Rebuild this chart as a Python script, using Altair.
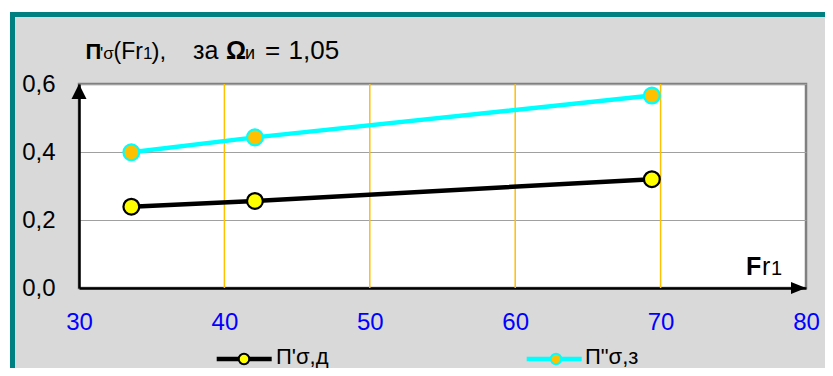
import altair as alt
import pandas as pd

# ---- data ----
fr1 = [33.6, 42.1, 69.4]
p_sigma_d = [0.239, 0.256, 0.32]
p_sigma_z = [0.399, 0.443, 0.566]
series_names = ["П'σ,д", "П\"σ,з"]
line_colors = ["#000000", "#00ffff"]
marker_fills = ["#ffff00", "#ffc000"]
x_ticks = [30, 40, 50, 60, 70, 80]
x_grid = [40, 50, 60, 70]
y_ticks = [0.0, 0.2, 0.4, 0.6]

rows = []
for xv, yv in zip(fr1, p_sigma_d):
    rows.append({"Fr1": xv, "P": yv, "series": series_names[0]})
for xv, yv in zip(fr1, p_sigma_z):
    rows.append({"Fr1": xv, "P": yv, "series": series_names[1]})
df = pd.DataFrame(rows)

FONT = "Liberation Sans"
W, H = 727, 204

xs = alt.Scale(domain=[30, 80], nice=False, zero=False)
ys = alt.Scale(domain=[0, 0.6], nice=False, zero=True)
stroke_scale = alt.Scale(domain=series_names, range=line_colors)
fill_scale = alt.Scale(domain=series_names, range=marker_fills)

one = alt.Data(values=[{"a": 1}])


def deco_rule(color, width, **enc):
    return alt.Chart(one).mark_rule(color=color, strokeWidth=width).encode(
        **{k: alt.value(v) for k, v in enc.items()}
    )


def txt(s, x, y, size, bold=False, color="black"):
    return alt.Chart(one).mark_text(
        text=s, font=FONT, fontSize=size, fontWeight="bold" if bold else "normal",
        align="left", baseline="alphabetic", color=color,
    ).encode(x=alt.value(x), y=alt.value(y))


# frame: white outer strip + teal border
frame = [
    deco_rule("white", 4, x=-80, x2=900, y=-74),
    deco_rule("white", 2, x=-70, y=-80, y2=400),
    deco_rule("#008080", 5, x=-69, x2=900, y=-69.5),
    deco_rule("#008080", 5, x=-66.5, y=-72, y2=400),
]

grid_x = alt.Chart(pd.DataFrame({"g": x_grid})).mark_rule(
    color="#ffc000", strokeWidth=1.5
).encode(x=alt.X("g:Q", scale=xs))

base = alt.Chart(df)
lines = base.mark_line(strokeWidth=4.5).encode(
    x=alt.X("Fr1:Q", scale=xs,
            axis=alt.Axis(values=x_ticks, title=None, grid=False, ticks=False, tickSize=0,
                          labelPadding=22, labelFontSize=24, labelFont=FONT,
                          labelColor="#0000ff", domainColor="black", domainWidth=2.5,
                          labelFlush=False)),
    y=alt.Y("P:Q", scale=ys,
            axis=alt.Axis(values=y_ticks, title=None, grid=True, gridColor="#a0a0a0",
                          gridWidth=1, ticks=False, tickSize=0, labelPadding=24,
                          labelFontSize=24, labelFont=FONT, labelColor="black",
                          domainColor="black", domainWidth=2.5, labelFlush=False,
                          labelExpr="replace(format(datum.value, '.1f'), '.', ',')")),
    stroke=alt.Stroke("series:N", scale=stroke_scale, legend=None),
    detail="series:N",
)

points = base.mark_point(shape="circle", filled=True, size=250, strokeWidth=2.2, opacity=1).encode(
    x=alt.X("Fr1:Q", scale=xs),
    y=alt.Y("P:Q", scale=ys),
    fill=alt.Fill("series:N", scale=fill_scale, legend=None),
    stroke=alt.Stroke("series:N", scale=stroke_scale, legend=None),
)

# legend (drawn by hand below the axis)
legend = []
leg_y = 275
for name, lc, mf, x0, cx, tx in zip(series_names, line_colors, marker_fills,
                                    [137.7, 447.7], [165, 477], [197, 506]):
    legend.append(deco_rule(lc, 4.5, x=x0, x2=x0 + 55, y=leg_y))
    legend.append(alt.Chart(one).mark_point(shape="circle", filled=True, size=110,
                                            fill=mf, stroke=lc, strokeWidth=2,
                                            opacity=1).encode(
        x=alt.value(cx), y=alt.value(leg_y)))
    legend.append(txt(name, tx, 279.5, 22))

# title pieces  П'σ(Fr1), за Ωи = 1,05
ty = -25
title = [
    txt("П", 6.5, ty, 22, bold=True),
    txt("'σ", 21, ty, 17),
    txt("(Fr", 34.5, ty, 23),
    txt("1", 64, ty, 17),
    txt("),", 72.5, ty, 24),
    txt("за", 114, ty, 25),
    txt("Ω", 147, ty, 25, bold=True),
    txt("и", 166, ty, 18),
    txt("=", 186, ty, 26),
    txt("1,05", 209.5, ty, 26),
]

fr_label = [
    txt("F", 667, 191, 25, bold=True),
    txt("r", 683, 191, 25),
    txt("1", 692, 191, 20),
]

arrows = [
    alt.Chart(one).mark_point(shape="M0,-1L-1,1L1,1Z", filled=True, color="black",
                              size=225, opacity=1, strokeWidth=0).encode(
        x=alt.value(0), y=alt.value(7.5)),
    alt.Chart(one).mark_point(shape="M1,0L-1,-0.8L-1,0.8Z", filled=True, color="black",
                              size=225, opacity=1, strokeWidth=0).encode(
        x=alt.value(W - 7.5), y=alt.value(H)),
]

chart = alt.layer(
    *frame, grid_x, lines, points, *legend, *title, *fr_label, *arrows
).resolve_scale(stroke="shared").properties(
    width=W, height=H,
    autosize=alt.AutoSizeParams(type="none"),
    padding={"left": 71, "top": 76, "right": 19, "bottom": 80},
    background="#d9d9d9",
).configure_view(
    stroke="#808080", strokeWidth=2.5, fill="white"
)

chart.save("out.html", embed_options={"renderer": "svg", "actions": False})
